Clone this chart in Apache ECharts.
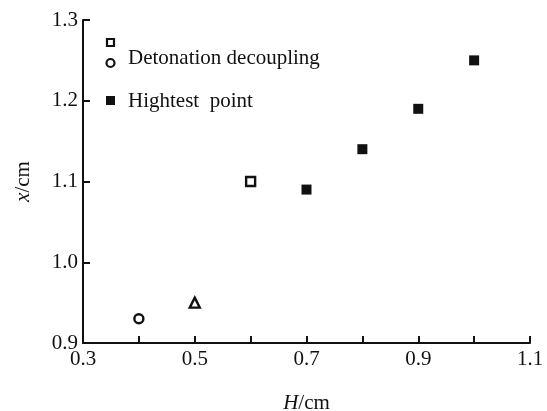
<!DOCTYPE html>
<html>
<head>
<meta charset="utf-8">
<script src="https://cdn.jsdelivr.net/npm/echarts@6/dist/echarts.min.js"></script>
<style>
  html, body { margin: 0; padding: 0; background: #fff; }
  #main { width: 547px; height: 411px; }
</style>
</head>
<body>
<div id="main"></div>
<script>
// data: [H, x]
const openSquare = [[0.6, 1.10]];
const openCircle = [[0.4, 0.93]];
const openTriangle = [[0.5, 0.95]];
const highestPoint = [[0.7, 1.09], [0.8, 1.14], [0.9, 1.19], [1.0, 1.25]];

const FONT = "'Liberation Serif', 'DejaVu Serif', serif";
const INK = "#111";

function initChart() {
  var myChart = echarts.init(document.querySelector("#main"));
  myChart.setOption(options);
  return myChart;
}

const hollow = { color: "#fff", borderColor: INK, borderWidth: 2.4, opacity: 1 };

const options = {
  animation: false,
  grid: { left: 83, right: 17, top: 20, bottom: 68, outerBoundsMode: "none" },
  xAxis: {
    type: "value",
    min: 0.3, max: 1.1, interval: 0.1,
    name: "{i|H}/cm",
    nameLocation: "middle",
    nameGap: 50,
    nameTextStyle: {
      fontFamily: FONT, fontSize: 21, color: INK,
      rich: { i: { fontFamily: FONT, fontStyle: "italic", fontSize: 21, color: INK } }
    },
    axisLine: { lineStyle: { color: INK, width: 2 } },
    axisTick: { inside: true, length: 7, lineStyle: { color: INK, width: 2 } },
    axisLabel: {
      fontFamily: FONT, fontSize: 21, color: INK, margin: 6,
      formatter: function (v) { return Math.round(v * 10) % 2 === 1 ? v.toFixed(1) : ""; }
    },
    splitLine: { show: false }
  },
  yAxis: {
    type: "value",
    min: 0.9, max: 1.3, interval: 0.1,
    name: "{i|x}/cm",
    nameLocation: "middle",
    nameRotate: 90,
    nameGap: 49,
    nameTextStyle: {
      fontFamily: FONT, fontSize: 21, color: INK,
      rich: { i: { fontFamily: FONT, fontStyle: "italic", fontSize: 21, color: INK } }
    },
    axisLine: { show: true, lineStyle: { color: INK, width: 2 } },
    axisTick: { show: true, inside: true, length: 7, lineStyle: { color: INK, width: 2 } },
    axisLabel: {
      fontFamily: FONT, fontSize: 21, color: INK, margin: 5,
      formatter: function (v) { return v.toFixed(1); }
    },
    splitLine: { show: false }
  },
  graphic: [
    { type: "rect", shape: { x: 107, y: 39, width: 7, height: 7 }, style: { fill: "#fff", stroke: INK, lineWidth: 2.2 } },
    { type: "circle", shape: { cx: 110.5, cy: 63, r: 4 }, style: { fill: "#fff", stroke: INK, lineWidth: 2.2 } },
    { type: "text", left: 128, top: 48, style: { text: "Detonation decoupling", font: "21px " + FONT, fill: INK } },
    { type: "rect", shape: { x: 106, y: 96, width: 9, height: 9 }, style: { fill: INK } },
    { type: "text", left: 128, top: 91, style: { text: "Hightest  point", font: "21px " + FONT, fill: INK } }
  ],
  series: [
    { name: "Detonation decoupling", type: "scatter", symbol: "rect", symbolSize: 9, data: openSquare, itemStyle: hollow },
    { name: "circle", type: "scatter", symbol: "circle", symbolSize: 9, data: openCircle, itemStyle: hollow },
    { name: "triangle", type: "scatter", symbol: "triangle", symbolSize: 10, data: openTriangle, itemStyle: hollow },
    { name: "Hightest point", type: "scatter", symbol: "rect", symbolSize: 10, data: highestPoint, itemStyle: { color: INK, opacity: 1 } }
  ]
};

var myChart = initChart();
window.onresize = function () { myChart.resize(); };
</script>
</body>
</html>
